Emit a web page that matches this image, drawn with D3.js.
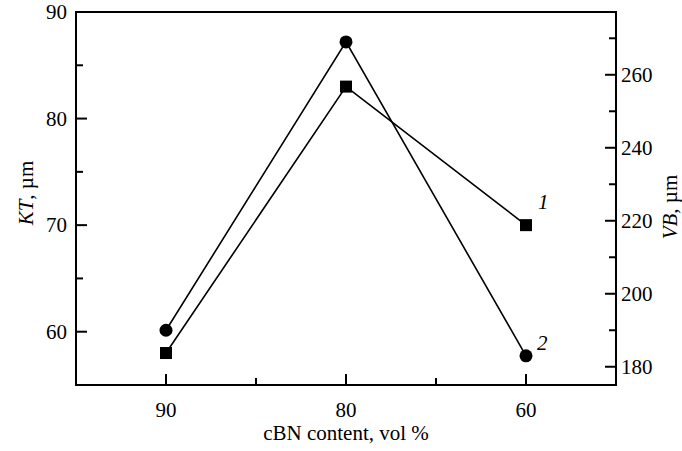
<!DOCTYPE html>
<html><head><meta charset="utf-8">
<script src="https://cdn.jsdelivr.net/npm/d3@7"></script>
<style>body{margin:0;background:#fff}</style>
</head><body><svg id="c" width="682" height="451"></svg>
<script>
const categories = ["90", "80", "60"];
const minorCats = [0.5, 1.5];
const seriesKT = [58, 83, 70];      // squares, curve 1, left axis
const seriesVB = [190, 269, 183];   // circles, curve 2, right axis
const ktTicks = [60, 70, 80, 90];
const ktMinor = [65, 75, 85];
const vbTicks = [180, 200, 220, 240, 260];
const vbMinor = [190, 210, 230, 250, 270];

const FONT = "Liberation Serif";
const FS = 21;
const svg = d3.select("#c");
const L = 76, R = 616, T = 12, B = 385;
const x = d3.scaleLinear().domain([-0.5, 2.5]).range([L, R]);
const yL = d3.scaleLinear().domain([55, 90]).range([B, T]);
const yR = d3.scaleLinear().domain([175, 277.2]).range([B, T]);

const txt = (sel) => sel.append("text").attr("font-family", FONT).attr("font-size", FS).attr("fill", "#000");

svg.append("rect").attr("x", L).attr("y", T).attr("width", R - L).attr("height", B - T)
  .attr("fill", "none").attr("stroke", "#000").attr("stroke-width", 2);

const g = svg.append("g");
ktTicks.forEach(v => g.append("line").attr("x1", L).attr("x2", L + 11).attr("y1", yL(v)).attr("y2", yL(v)).attr("stroke", "#000").attr("stroke-width", 2));
ktMinor.forEach(v => g.append("line").attr("x1", L).attr("x2", L + 7).attr("y1", yL(v)).attr("y2", yL(v)).attr("stroke", "#000").attr("stroke-width", 2));
ktTicks.forEach(v => txt(g).attr("x", L - 9).attr("y", yL(v)).attr("dy", "0.35em").attr("text-anchor", "end").text(v));
vbTicks.forEach(v => g.append("line").attr("x1", R).attr("x2", R - 11).attr("y1", yR(v)).attr("y2", yR(v)).attr("stroke", "#000").attr("stroke-width", 2));
vbMinor.forEach(v => g.append("line").attr("x1", R).attr("x2", R - 7).attr("y1", yR(v)).attr("y2", yR(v)).attr("stroke", "#000").attr("stroke-width", 2));
vbTicks.forEach(v => txt(g).attr("x", R + 5).attr("y", yR(v)).attr("dy", "0.35em").attr("text-anchor", "start").text(v));
categories.forEach((c, i) => {
  g.append("line").attr("x1", x(i)).attr("x2", x(i)).attr("y1", B).attr("y2", B - 11).attr("stroke", "#000").attr("stroke-width", 2);
  txt(g).attr("x", x(i)).attr("y", B + 32).attr("text-anchor", "middle").text(c);
});
minorCats.forEach(v => g.append("line").attr("x1", x(v)).attr("x2", x(v)).attr("y1", B).attr("y2", B - 7).attr("stroke", "#000").attr("stroke-width", 2));

txt(svg).attr("x", (L + R) / 2).attr("y", 440).attr("text-anchor", "middle").text("cBN content, vol %");
const tl = txt(svg).attr("transform", "translate(33,193) rotate(-90)").attr("text-anchor", "middle");
tl.append("tspan").attr("font-style", "italic").text("KT");
tl.append("tspan").text(", µm");
const tr = txt(svg).attr("transform", "translate(677,207) rotate(-90)").attr("text-anchor", "middle");
tr.append("tspan").attr("font-style", "italic").text("VB");
tr.append("tspan").text(", µm");

const lineL = d3.line().x((d, i) => x(i)).y(d => yL(d));
const lineR = d3.line().x((d, i) => x(i)).y(d => yR(d));
svg.append("path").attr("d", lineL(seriesKT)).attr("fill", "none").attr("stroke", "#000").attr("stroke-width", 1.6);
svg.append("path").attr("d", lineR(seriesVB)).attr("fill", "none").attr("stroke", "#000").attr("stroke-width", 1.6);
const s = 12;
svg.selectAll(".sq").data(seriesKT).join("rect").attr("x", (d, i) => x(i) - s / 2).attr("y", d => yL(d) - s / 2)
  .attr("width", s).attr("height", s).attr("fill", "#000");
svg.selectAll(".ci").data(seriesVB).join("circle").attr("cx", (d, i) => x(i)).attr("cy", d => yR(d)).attr("r", 6.5).attr("fill", "#000");

txt(svg).attr("x", x(2) + 12).attr("y", yL(seriesKT[2]) - 16).attr("font-style", "italic").text("1");
txt(svg).attr("x", x(2) + 11).attr("y", yR(seriesVB[2]) - 6).attr("font-style", "italic").text("2");
</script></body></html>
